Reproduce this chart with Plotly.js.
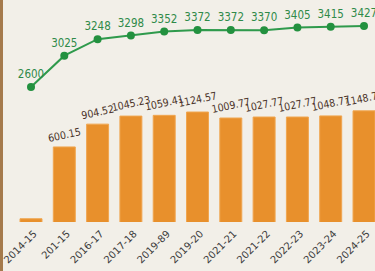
<!DOCTYPE html>
<html>
<head>
<meta charset="utf-8">
<script src="https://cdn.plot.ly/plotly-3.0.1.min.js"></script>
<style>html,body{margin:0;padding:0;background:#f2efe8;}#chart{width:375px;height:271px;}</style>
</head>
<body>
<div id="chart"></div>
<script>
const categories = ["2014-15","201-15","2016-17","2017-18","2019-89","2019-20","2021-21","2021-22","2022-23","2023-24","2024-25"];
const lineValues = [2600,3025,3248,3298,3352,3372,3372,3370,3405,3415,3427];
const lineLabels = ["2600","3025","3248","3298","3352","3372","3372","3370","3405","3415","3427"];
const barValues = [165,600.15,904.52,1045.23,1059.41,1124.57,1009.77,1027.77,1027.77,1048.77,1148.77];
const barLabels = ["","600.15","904.52","1045.23","1059.41","1124.57","1009.77","1027.77","1027.77","1048.77","1148.77"];

const bars = {
  type: "bar", x: categories, y: barValues, yaxis: "y2",
  width: 0.66,
  marker: {color: "#e8902c", line: {color: "#f0a650", width: 1}},
  text: barLabels, textposition: "outside", cliponaxis: false,
  constraintext: "none",
  textangle: -12,
  textfont: {family: "DejaVu Sans Condensed, DejaVu Sans", size: 10.5, color: "#4a3328"},
  hoverinfo: "skip"
};
const line = {
  type: "scatter", mode: "lines+markers+text", x: categories, y: lineValues, yaxis: "y",
  line: {color: "#2f9a4c", width: 2},
  marker: {color: "#23913f", size: 8},
  text: lineLabels, textposition: "top center",
  textfont: {family: "DejaVu Sans Condensed, DejaVu Sans", size: 11.5, color: "#2f8a48"},
  cliponaxis: false, hoverinfo: "skip"
};
const layout = {
  width: 375, height: 271,
  margin: {l: 0, r: 0, t: 0, b: 49},
  paper_bgcolor: "#f2efe8", plot_bgcolor: "#f2efe8",
  showlegend: false,
  xaxis: {type: "category", range: [-0.931, 10.33], showgrid: false, zeroline: false,
    showline: false, ticks: "", tickangle: -45, ticklabelshift: 3, ticklabelstandoff: 3,
    tickfont: {family: "DejaVu Sans", size: 10, color: "#3c3c3c"}},
  yaxis: {range: [771, 3779], visible: false, showgrid: false, zeroline: false},
  yaxis2: {type: "log", range: [2.192, 3.926], overlaying: "y", visible: false, showgrid: false, zeroline: false},
  shapes: [{type: "rect", xref: "paper", yref: "paper", x0: 0, x1: 0.008, y0: -0.3, y1: 1,
    fillcolor: "#a57a4c", line: {width: 0}, layer: "above"}]
};
Plotly.newPlot("chart", [bars, line], layout, {staticPlot: true, displayModeBar: false});
</script>
</body>
</html>
